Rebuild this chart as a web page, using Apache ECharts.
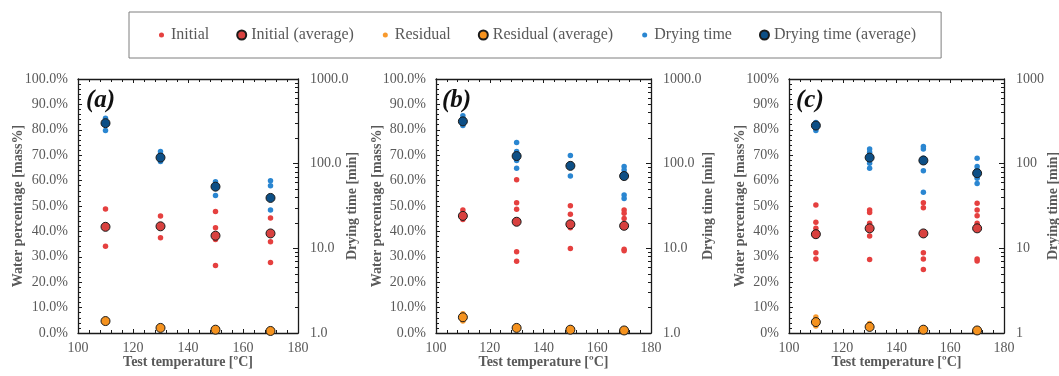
<!DOCTYPE html>
<html>
<head>
<meta charset="utf-8">
<script src="https://cdn.jsdelivr.net/npm/echarts@6/dist/echarts.min.js"></script>
<style>
  html, body { margin: 0; padding: 0; background: #fff; }
  #chart { width: 1059px; height: 376px; }
</style>
</head>
<body>
<div id="chart"></div>
<script>
// test temperatures [°C]
const temperatures = [110, 130, 150, 170];

// panel (a) – water [mass%] per temperature, drying time [min] per temperature
const initialA = [[48.8, 41.5, 34.2], [46.1, 42.4, 37.5], [47.8, 41.4, 36.8, 26.6], [45.3, 39.5, 35.9, 27.8]];
const initialAvgA = [41.8, 42.0, 38.3, 39.2];
const residualA = [[5.3, 4.2], [2.4, 1.7], [1.6, 1.0], [1.0, 0.6]];
const residualAvgA = [4.7, 2.0, 1.3, 0.8];
const dryingA = [[345, 246], [139, 129, 106], [61, 42], [63, 55, 28.3]];
const dryingAvgA = [301, 118, 53.5, 39.4];

// panel (b)
const initialB = [[48.4, 44.7], [60.3, 51.3, 48.7, 32.0, 28.2], [50.1, 46.8, 41.4, 33.3], [48.4, 47.1, 45.1, 33.0, 32.4]];
const initialAvgB = [46.1, 43.8, 42.8, 42.2];
const residualB = [[7.6, 4.7], [2.6, 1.6], [1.8, 0.9], [1.4, 0.7]];
const residualAvgB = [6.2, 2.0, 1.3, 1.0];
const dryingB = [[367, 336, 282], [178, 139, 109, 88.5], [125, 71.4], [92.3, 84.3, 77.1, 42.6, 38.9]];
const dryingAvgB = [316, 123, 94.2, 71.4];

// panel (c)
const initialC = [[50.4, 43.6, 41.2, 31.6, 29.1], [48.4, 47.4, 43.2, 38.2, 28.9], [51.3, 49.3, 31.6, 29.1, 25.0], [51.1, 48.4, 46.2, 43.2, 29.1, 28.3]];
const initialAvgC = [38.9, 41.2, 39.2, 41.2];
const residualC = [[6.3, 2.8], [3.7, 1.8], [1.8, 0.8], [1.3, 0.6]];
const residualAvgC = [4.3, 2.4, 1.3, 1.0];
const dryingC = [[307, 246], [149, 136, 101, 88.5], [159, 149, 116, 82.6, 45.9], [116, 92.3, 84.3, 67.1, 58.5]];
const dryingAvgC = [282, 118, 109, 77.1];

// axis ticks
const timeMajor = [1, 10, 100, 1000];
const timeMinor = [2, 3, 4, 5, 6, 7, 8, 9, 20, 30, 40, 50, 60, 70, 80, 90, 200, 300, 400, 500, 600, 700, 800, 900];

const panels = [
  { tag: "(a)", initial: initialA, initialAvg: initialAvgA, residual: residualA, residualAvg: residualAvgA, drying: dryingA, dryingAvg: dryingAvgA, digits: 1 },
  { tag: "(b)", initial: initialB, initialAvg: initialAvgB, residual: residualB, residualAvg: residualAvgB, drying: dryingB, dryingAvg: dryingAvgB, digits: 1 },
  { tag: "(c)", initial: initialC, initialAvg: initialAvgC, residual: residualC, residualAvg: residualAvgC, drying: dryingC, dryingAvg: dryingAvgC, digits: 0 }
];

// layout
const layout = [
  { left: 78, width: 220, leftGap: 53, rightGap: 47, tagLeft: 86 },
  { left: 436, width: 215, leftGap: 52, rightGap: 50, tagLeft: 442 },
  { left: 789, width: 215, leftGap: 42, rightGap: 42, tagLeft: 796 }
];

const FONT = "'Liberation Serif', 'Times New Roman', serif";
const GRAY = "#595959";
const AXIS = "#1a1a1a";

const colors = {
  initial: "#e5403f",
  initialAvg: "#d8413f",
  residual: "#f89a2e",
  residualAvg: "#f5921e",
  drying: "#2a86d1",
  dryingAvg: "#0d4f86"
};

const smallIcon = "path://M0,0M10,10M2.2,5A2.8,2.8,0,1,1,7.8,5A2.8,2.8,0,1,1,2.2,5Z";

function spread(groups) {
  const out = [];
  groups.forEach((vals, i) => vals.forEach((v) => out.push([temperatures[i], v])));
  return out;
}
function pair(vals) {
  return vals.map((v, i) => [temperatures[i], v]);
}

const grid = [], xAxis = [], yAxis = [], series = [], title = [];

panels.forEach((p, i) => {
  const L = layout[i];
  grid.push({ left: L.left, top: 79, width: L.width, height: 254, outerBoundsMode: "none" });

  const xBase = {
    type: "value", gridIndex: i, min: 100, max: 180, interval: 20,
    axisLine: { lineStyle: { color: AXIS, width: 1.3 } },
    axisTick: { inside: true, length: 4, lineStyle: { color: AXIS } },
    minorTick: { show: true, splitNumber: 5, length: 3, lineStyle: { color: AXIS } },
    splitLine: { show: false }
  };
  xAxis.push(Object.assign({}, xBase, {
    position: "bottom",
    name: "Test temperature [ºC]", nameLocation: "middle", nameGap: 22, nameMoveOverlap: false,
    nameTextStyle: { fontFamily: FONT, fontSize: 14, fontWeight: "bold", color: GRAY },
    axisLabel: { fontFamily: FONT, fontSize: 14, color: GRAY, margin: 8 }
  }));
  xAxis.push(Object.assign({}, xBase, { position: "top", axisLabel: { show: false } }));

  yAxis.push({
    type: "value", gridIndex: i, position: "left", min: 0, max: 100, interval: 10,
    name: "Water percentage [mass%]", nameLocation: "middle", nameGap: L.leftGap, nameMoveOverlap: false,
    nameTextStyle: { fontFamily: FONT, fontSize: 14, fontWeight: "bold", color: GRAY },
    axisLine: { show: true, lineStyle: { color: AXIS, width: 1.3 } },
    axisTick: { show: true, inside: true, length: 4, lineStyle: { color: AXIS } },
    minorTick: { show: true, splitNumber: 5, length: 3, lineStyle: { color: AXIS } },
    splitLine: { show: false },
    axisLabel: { fontFamily: FONT, fontSize: 14, color: GRAY, margin: 10, formatter: (v) => v.toFixed(p.digits) + "%" }
  });
  yAxis.push({
    type: "log", logBase: 10, gridIndex: i, position: "right", min: 1, max: 1000,
    name: "Drying time [min]", nameLocation: "middle", nameGap: L.rightGap, nameMoveOverlap: false,
    nameTextStyle: { fontFamily: FONT, fontSize: 14, fontWeight: "bold", color: GRAY },
    axisLine: { show: true, lineStyle: { color: AXIS, width: 1.3 } },
    axisTick: { show: true, inside: true, length: 5, customValues: timeMajor, lineStyle: { color: AXIS } },
    splitLine: { show: false },
    axisLabel: { fontFamily: FONT, fontSize: 14, color: GRAY, margin: 12, customValues: timeMajor, formatter: (v) => Number(v).toFixed(p.digits) }
  });
  yAxis.push({
    type: "log", logBase: 10, gridIndex: i, position: "right", min: 1, max: 1000,
    axisLine: { show: false },
    axisTick: { show: true, inside: true, length: 3, customValues: timeMinor, lineStyle: { color: AXIS } },
    splitLine: { show: false },
    axisLabel: { show: false }
  });

  title.push({
    text: p.tag, left: L.tagLeft, top: 88, padding: 0,
    textStyle: { fontFamily: FONT, fontSize: 25, fontStyle: "italic", fontWeight: "bold", color: "#111" }
  });

  const small = (name, data, color, yIdx) => ({
    name, type: "scatter", xAxisIndex: 2 * i, yAxisIndex: yIdx, data,
    symbol: "circle", symbolSize: 5.5, itemStyle: { color, opacity: 1 }, z: 2
  });
  const avg = (name, data, color, yIdx) => ({
    name, type: "scatter", xAxisIndex: 2 * i, yAxisIndex: yIdx, data,
    symbol: "circle", symbolSize: 9, itemStyle: { color, borderColor: "#1a1a1a", borderWidth: 1, opacity: 1 }, z: 3
  });

  series.push(
    small("Initial", spread(p.initial), colors.initial, 3 * i),
    avg("Initial (average)", pair(p.initialAvg), colors.initialAvg, 3 * i),
    small("Residual", spread(p.residual), colors.residual, 3 * i),
    avg("Residual (average)", pair(p.residualAvg), colors.residualAvg, 3 * i),
    small("Drying time", spread(p.drying), colors.drying, 3 * i + 1),
    avg("Drying time (average)", pair(p.dryingAvg), colors.dryingAvg, 3 * i + 1)
  );
});

const chart = echarts.init(document.getElementById("chart"), null, { renderer: "canvas" });
chart.setOption({
  backgroundColor: "#fff",
  animation: false,
  title,
  legend: {
    left: 129, top: 12,
    padding: [15, 25, 15, 28],
    borderColor: "#7f7f7f", borderWidth: 1,
    itemWidth: 9, itemHeight: 9, itemGap: 27,
    textStyle: { fontFamily: FONT, fontSize: 16, color: GRAY },
    data: [
      { name: "Initial", icon: smallIcon },
      { name: "Initial (average)", icon: "circle" },
      { name: "Residual", icon: smallIcon },
      { name: "Residual (average)", icon: "circle" },
      { name: "Drying time", icon: smallIcon },
      { name: "Drying time (average)", icon: "circle" }
    ]
  },
  grid,
  xAxis,
  yAxis,
  series
});
</script>
</body>
</html>
